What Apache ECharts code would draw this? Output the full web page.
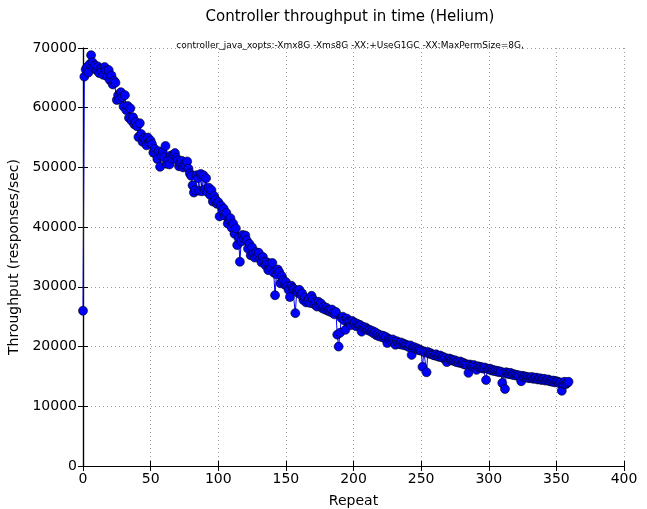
<!DOCTYPE html>
<html>
<head>
<meta charset="utf-8">
<script src="https://cdn.jsdelivr.net/npm/echarts@6/dist/echarts.min.js"></script>
<style>
html,body{margin:0;padding:0;background:#fff;}
#chart{width:647px;height:509px;}
</style>
</head>
<body>
<div id="chart"></div>
<script>
var titleText = 'Controller throughput in time (Helium)';
var subtitleText = 'controller_java_xopts:-Xmx8G -Xms8G -XX:+UseG1GC -XX:MaxPermSize=8G,';
var xAxisName = 'Repeat';
var yAxisName = 'Throughput (responses/sec)';
var xTicks = [0, 50, 100, 150, 200, 250, 300, 350, 400];
var yTicks = [0, 10000, 20000, 30000, 40000, 50000, 60000, 70000];

var throughput = [
26000, 65200, 66400, 66800, 65900, 67300, 68800, 67600, 66700, 67100,
66300, 66900, 65800, 66500, 66100, 65500, 66800, 66200, 65200, 66300,
64600, 65400, 63900, 64500, 64200, 61300, 62100, 61400, 62600, 61800,
60200, 62100, 59600, 60300, 58300, 59900, 57800, 58400, 57200, 57600,
56900, 55100, 57400, 55600, 54300, 54900, 54600, 53700, 55000, 54200,
54500, 53900, 52500, 53100, 52200, 51400, 52700, 50100, 51900, 52600,
51700, 53600, 50600, 51300, 50500, 52000, 51500, 52100, 52400, 51600,
51200, 50200, 50800, 51100, 50000, 50500, 50300, 51000, 49800, 49000,
48600, 47000, 45800, 46200, 48700, 48200, 46100, 48900, 46000, 48700,
46300, 48200, 45900, 46600, 45400, 46200, 44300, 45200, 44600, 43900,
44200, 41800, 43600, 42800, 43100, 41900, 42400, 40600, 41200, 41500,
39900, 40600, 38900, 39800, 37000, 38200, 34200, 37600, 38700, 38100,
38600, 37800, 36400, 37200, 35300, 36600, 35500, 34900, 35800, 35200,
35700, 34700, 34100, 35000, 34200, 33600, 34100, 32800, 33900, 33200,
34000, 32400, 28600, 32100, 32900, 32500, 30600, 31800, 31100, 30400,
30800, 30100, 29500, 28300, 30200, 29800, 29600, 25600, 29300, 29000,
29500, 28700, 28900, 27800, 28200, 27400, 27700, 28000, 27300, 28500,
27900, 27100, 27500, 26700, 27500, 26900, 27200, 26400, 26700, 26200,
26500, 26000, 26100, 25800, 26200, 25600, 25400, 25800, 22000, 20000,
22300, 24800, 25000, 24400, 22800, 24700, 24200, 24100, 23600, 24300,
23900, 24000, 23400, 23800, 23500, 23600, 22500, 23300, 23000, 23200,
22900, 22700, 22800, 22500, 22600, 22200, 22400, 21900, 22100, 21700,
21900, 21600, 21800, 21400, 21600, 20600, 21300, 21100, 20900, 21200,
20800, 20300, 20900, 20600, 20400, 20700, 20300, 20500, 20200, 20300,
20100, 19900, 20200, 18600, 19800, 19900, 19600, 19700, 19400, 19500,
19300, 16600, 19200, 19000, 15700, 19100, 18800, 18900, 18700, 18600,
18500, 18700, 18400, 18300, 18500, 18200, 18300, 18000, 18100, 17400,
17900, 18000, 17700, 17800, 17600, 17700, 17400, 17500, 17300, 17500,
17200, 17300, 17000, 17100, 16900, 15600, 17000, 16800, 16700, 16900,
16600, 16100, 16700, 16500, 16600, 16400, 16300, 16500, 14400, 16300,
16200, 16300, 16000, 16100, 15900, 16000, 15800, 15900, 15700, 15800,
13900, 15600, 12900, 15700, 15500, 15400, 15600, 15300, 15400, 15200,
15300, 15100, 15200, 15000, 14200, 15100, 14900, 15000, 14800, 14900,
14700, 14800, 14900, 14600, 14700, 14800, 14500, 14600, 14700, 14400,
14500, 14600, 14300, 14400, 14500, 14200, 14300, 14100, 14300, 14000,
14200, 14100, 13900, 14000, 12600, 13800, 14100, 13700, 13900, 14100
];

var seriesData = throughput.map(function (v, i) { return [i, v]; });

var FONT = 'DejaVu Sans';
var chart = echarts.init(document.getElementById('chart'), null, {renderer: 'canvas'});

var gridLine = {show: true, lineStyle: {color: '#a0a0a0', type: [1, 3], width: 1}};
var frameLine = {show: true, lineStyle: {color: '#000', width: 1.2}};
var plainNum = function (v) { return String(v); };

chart.setOption({
  animation: false,
  backgroundColor: '#ffffff',
  title: [
    {text: titleText, left: 345, top: 5, textAlign: 'center',
     textStyle: {fontFamily: FONT, fontSize: 15, fontWeight: 'normal', color: '#000'}},
    {text: subtitleText, left: 345, top: 36, textAlign: 'center',
     textStyle: {fontFamily: FONT, fontSize: 9, fontWeight: 'normal', color: '#000'}}
  ],
  grid: {left: 83, right: 23, top: 48, bottom: 43, containLabel: false, outerBoundsMode: 'none'},
  xAxis: [{
    type: 'value', min: xTicks[0], max: xTicks[xTicks.length - 1], interval: 50,
    name: xAxisName, nameLocation: 'middle', nameGap: 28,
    nameTextStyle: {fontFamily: FONT, fontSize: 14, color: '#000'},
    axisLine: frameLine,
    axisTick: {show: true, inside: true, length: 5, lineStyle: {color: '#000'}},
    axisLabel: {fontFamily: FONT, fontSize: 14, color: '#000', margin: 6, formatter: plainNum},
    splitLine: gridLine
  }, {
    type: 'value', position: 'top', min: xTicks[0], max: xTicks[xTicks.length - 1], interval: 50,
    axisLine: frameLine,
    axisTick: {show: true, inside: true, length: 5, lineStyle: {color: '#000'}},
    axisLabel: {show: false}, splitLine: {show: false}
  }],
  yAxis: [{
    type: 'value', min: yTicks[0], max: yTicks[yTicks.length - 1], interval: 10000,
    name: yAxisName, nameLocation: 'middle', nameGap: 57, nameRotate: 90,
    nameTextStyle: {fontFamily: FONT, fontSize: 14, color: '#000'},
    axisLine: frameLine,
    axisTick: {show: true, inside: true, length: 5, lineStyle: {color: '#000'}},
    axisLabel: {fontFamily: FONT, fontSize: 14, color: '#000', margin: 6, formatter: plainNum},
    splitLine: gridLine
  }, {
    type: 'value', position: 'right', min: yTicks[0], max: yTicks[yTicks.length - 1], interval: 10000,
    axisLine: frameLine,
    axisTick: {show: true, inside: true, length: 5, lineStyle: {color: '#000'}},
    axisLabel: {show: false}, splitLine: {show: false}
  }],
  series: [{
    type: 'line',
    data: seriesData,
    xAxisIndex: 0, yAxisIndex: 0,
    symbol: 'circle', symbolSize: 9, showAllSymbol: true,
    lineStyle: {color: '#0000ff', width: 1},
    itemStyle: {color: '#0000ff', borderColor: '#000000', borderWidth: 0.6},
    clip: false
  }]
});
</script>
</body>
</html>
